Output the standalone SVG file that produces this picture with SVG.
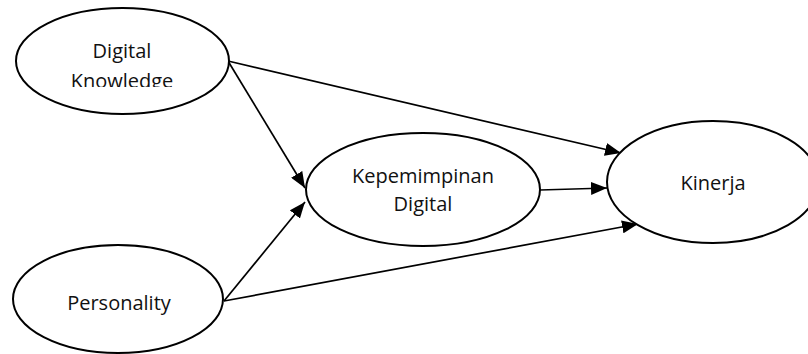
<svg xmlns="http://www.w3.org/2000/svg" width="808" height="354" viewBox="0 0 808 354">
<style>
.node ellipse{fill:#fff;stroke:#000;stroke-width:2}
.node text{font-family:"Open Sans","Noto Sans",sans-serif;font-size:20px;fill:#111;text-anchor:middle}
.edges line{stroke:#000;stroke-width:1.7;marker-end:url(#arr)}
</style>
<defs>
<marker id="arr" markerUnits="userSpaceOnUse" markerWidth="16" markerHeight="13" refX="16" refY="6.5" orient="auto">
<path d="M0,0 L16,6.5 L0,13 Z" fill="#000"/>
</marker>
<clipPath id="dkclip"><rect x="0" y="0" width="260" height="87"/></clipPath>
</defs>
<rect width="808" height="354" fill="#fff"/>
<g class="edges">
<line x1="228" y1="61" x2="621" y2="153"/>
<line x1="228" y1="61" x2="305" y2="188"/>
<line x1="224" y1="301" x2="305" y2="202"/>
<line x1="224" y1="301" x2="638" y2="224"/>
<line x1="540" y1="190" x2="607" y2="188"/>
</g>
<g id="digital-knowledge" class="node">
<ellipse cx="122.5" cy="61" rx="106.5" ry="53"/>
<text x="122" y="58">Digital</text>
<text x="122" y="88" clip-path="url(#dkclip)">Knowledge</text>
</g>
<g id="kepemimpinan-digital" class="node">
<ellipse cx="423" cy="189.5" rx="117" ry="56.5"/>
<text x="423" y="183">Kepemimpinan</text>
<text x="423" y="211">Digital</text>
</g>
<g id="kinerja" class="node">
<ellipse cx="713" cy="182" rx="106" ry="61"/>
<text x="713" y="190">Kinerja</text>
</g>
<g id="personality" class="node">
<ellipse cx="118" cy="299" rx="105" ry="54"/>
<text x="119" y="310">Personality</text>
</g>
</svg>
